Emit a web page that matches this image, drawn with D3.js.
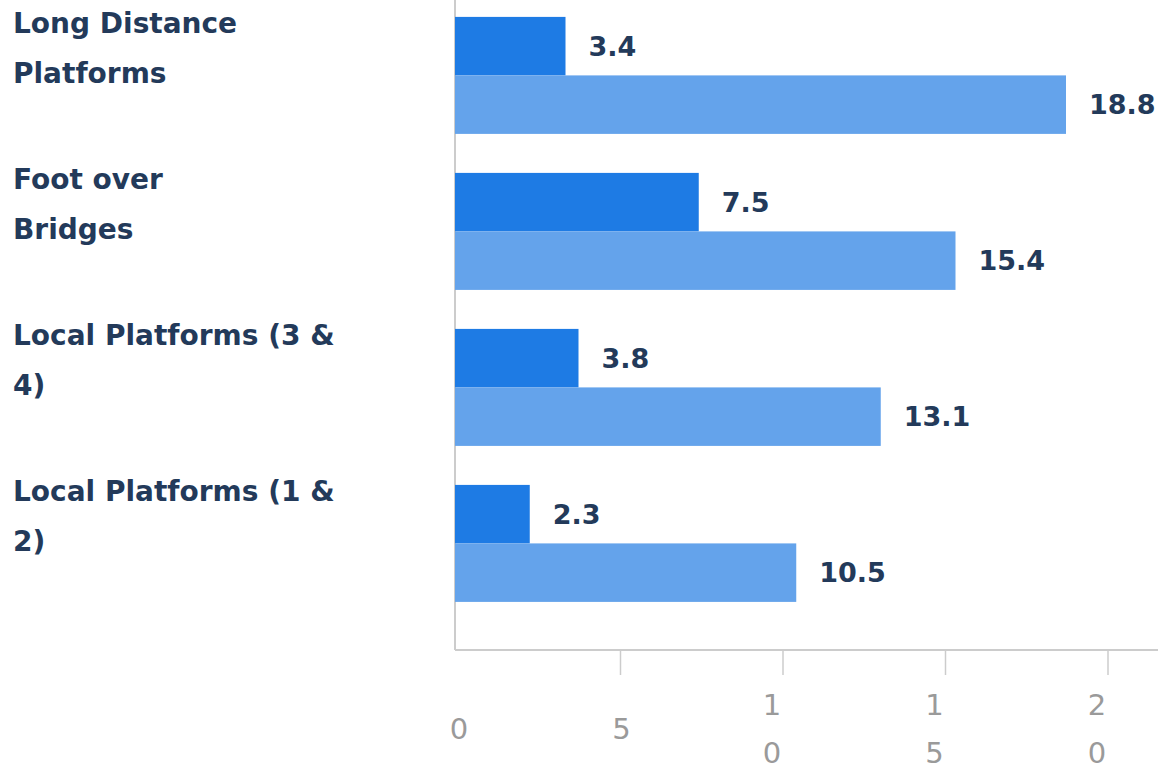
<!DOCTYPE html>
<html><head><meta charset="utf-8">
<script src="https://cdn.jsdelivr.net/npm/d3@7"></script>
<style>body{margin:0;background:#fff}svg{display:block}</style>
</head><body><svg id="c" width="1158" height="771"></svg>
<script>
const categories = ["Long Distance Platforms", "Foot over Bridges", "Local Platforms (3 & 4)", "Local Platforms (1 & 2)"];
const categoryLines = [["Long Distance", "Platforms"], ["Foot over", "Bridges"], ["Local Platforms (3 &", "4)"], ["Local Platforms (1 &", "2)"]];
const seriesNames = ["A", "B"];
const seriesA = [3.4, 7.5, 3.8, 2.3];
const seriesB = [18.8, 15.4, 13.1, 10.5];
const xTicks = [0, 5, 10, 15, 20];

const W = 1158, H = 771;
const left = 455, axisY = 650;
const FONT = "'DejaVu Sans', sans-serif";
const svg = d3.select("#c");

const x = d3.scaleLinear().domain([0, 20]).range([left, left + 650]);
const y = d3.scaleBand().domain(categories).range([0, axisY]).paddingInner(0.25).paddingOuter(0.2083).align(0.26);
const sub = d3.scaleBand().domain(seriesNames).range([0, y.bandwidth()]);
const colors = {A: "#1e7be4", B: "#64a3eb"};

const data = categories.map((c, i) => ({c, i, vals: [{k: "A", v: seriesA[i]}, {k: "B", v: seriesB[i]}]}));

svg.append("line").attr("x1", left).attr("x2", left).attr("y1", 0).attr("y2", axisY).attr("stroke", "#cccccc").attr("stroke-width", 2);

const g = svg.selectAll("g.cat").data(data).join("g").attr("class", "cat").attr("transform", d => `translate(0,${y(d.c)})`);
g.selectAll("rect").data(d => d.vals).join("rect")
  .attr("x", x(0)).attr("y", d => sub(d.k)).attr("height", sub.bandwidth())
  .attr("width", d => x(d.v) - x(0)).attr("fill", d => colors[d.k]);
g.selectAll("text.val").data(d => d.vals).join("text").attr("class", "val")
  .attr("x", d => x(d.v) + 23).attr("y", d => sub(d.k) + sub.bandwidth() / 2)
  .attr("dy", "0.36em").attr("font-family", FONT).attr("font-weight", "bold").attr("font-size", 27)
  .attr("fill", "#233a5a").text(d => d.v.toFixed(1));

svg.selectAll("text.cat").data(data).join("text").attr("class", "cat")
  .attr("font-family", FONT).attr("font-weight", "bold").attr("font-size", 28).attr("fill", "#233a5a")
  .each(function(d) {
    const t = d3.select(this);
    categoryLines[d.i].forEach((ln, j) => {
      t.append("tspan").attr("x", 13).attr("y", y(d.c) + 16 + j * 50).text(ln);
    });
  });

svg.append("line").attr("x1", left).attr("x2", W).attr("y1", axisY).attr("y2", axisY).attr("stroke", "#cccccc").attr("stroke-width", 2);
const ax = svg.append("g");
ax.selectAll("line").data(xTicks.slice(1)).join("line")
  .attr("x1", d => x(d) + 3).attr("x2", d => x(d) + 3).attr("y1", axisY).attr("y2", axisY + 25)
  .attr("stroke", "#cccccc").attr("stroke-width", 1.5);
ax.selectAll("text").data(xTicks).join("text")
  .attr("font-family", FONT).attr("font-size", 29).attr("fill", "#9a9a9a").attr("text-anchor", "middle")
  .each(function(d) {
    const t = d3.select(this);
    const s = String(d).split("");
    const n = s.length;
    s.forEach((ch, j) => {
      t.append("tspan").attr("x", x(d) + (n > 1 ? -8 : 4)).attr("y", 729 + (j - (n - 1) / 2) * 48).attr("dy", "0.36em").text(ch);
    });
  });
</script></body></html>
